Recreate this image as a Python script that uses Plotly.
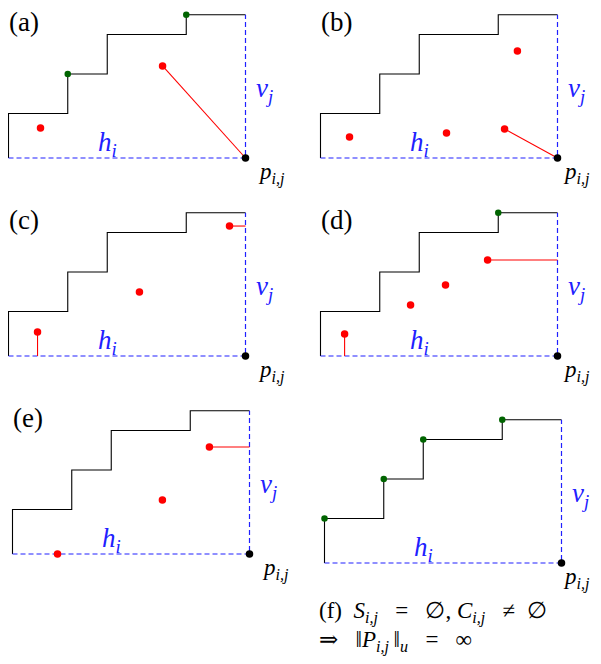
import plotly.graph_objects as go

# ---------------- data (panel units; origin = bottom-left of staircase, p_{i,j} at (12, 0)) -------------
STAIR_X = [0, 0, 3, 3, 5, 5, 9, 9, 12]
STAIR_Y = [0, 2.25, 2.25, 4.25, 4.25, 6.25, 6.25, 7.25, 7.25]
P_X, P_Y = 12, 0
TOP_Y = 7.25

panel_names = ["(a)", "(b)", "(c)", "(d)", "(e)", "(f)"]

a_red_x = [1.62, 7.8]
a_red_y = [1.52, 4.66]
a_green_x = [3, 9]
a_green_y = [4.25, 7.25]
a_links = [(1, "p")]

b_red_x = [1.47, 6.38, 9.32, 9.97]
b_red_y = [1.06, 1.27, 1.47, 5.42]
b_green_x = []
b_green_y = []
b_links = [(2, "p")]

c_red_x = [1.47, 6.63, 11.19]
c_red_y = [1.22, 3.24, 6.58]
c_green_x = []
c_green_y = []
c_links = [(0, "h"), (2, "v")]

d_red_x = [1.22, 4.56, 6.33, 8.46]
d_red_y = [1.11, 2.58, 3.59, 4.86]
d_green_x = [9]
d_green_y = [7.25]
d_links = [(0, "h"), (3, "v")]

e_red_x = [2.28, 7.59, 9.97]
e_red_y = [0.0, 2.73, 5.42]
e_green_x = []
e_green_y = []
e_links = [(2, "v")]

f_red_x = []
f_red_y = []
f_green_x = [0, 3, 5, 9]
f_green_y = [2.25, 4.25, 6.25, 7.25]
f_links = []

NB = "\u00a0"
TH = "\u2009"
caption_line1 = ("(f)" + NB * 2 + "<i>S</i><sub><i>i,j</i></sub>" + NB * 3 + "=" + NB * 3 + "∅,"
                 + NB + "<i>C</i><sub><i>i,j</i></sub>" + NB * 3 + "≠" + NB * 2 + "∅")
caption_line2 = ("⇒" + NB * 3 + "‖<i>P</i><sub><i>i,j</i></sub>" + TH + "‖<sub><i>u</i></sub>"
                 + NB * 3 + "=" + NB * 3 + "∞")

panels = [
    (a_red_x, a_red_y, a_green_x, a_green_y, a_links),
    (b_red_x, b_red_y, b_green_x, b_green_y, b_links),
    (c_red_x, c_red_y, c_green_x, c_green_y, c_links),
    (d_red_x, d_red_y, d_green_x, d_green_y, d_links),
    (e_red_x, e_red_y, e_green_x, e_green_y, e_links),
    (f_red_x, f_red_y, f_green_x, f_green_y, f_links),
]

# ---------------- layout (screen pixels; the page body adds an 8px margin) ----------------
OFF = 8
W, H = 601 - 2 * OFF, 664 - 2 * OFF
S = 19.75  # px per unit
# screen-pixel origin of each panel, and panel box (x0, x1, y0, y1) in screen px
origins = [(8.5, 158), (320.5, 158), (8.5, 356), (320.5, 356), (12.5, 554), (324.5, 563)]
boxes = [(8, 300, 8, 198), (300, 593, 8, 198), (8, 300, 198, 395),
         (300, 593, 198, 395), (8, 300, 395, 595), (300, 593, 395, 595)]
right_col = [False, True, False, True, False, True]

RED = "#ff0000"
GREEN = "#006400"
BLUE = "#2020ff"
SERIF = "Liberation Serif, DejaVu Serif, serif"

fig = go.Figure()
layout_axes = {}
annotations = []

for k, ((rx, ry, gx, gy, links), (ox, oy), (bx0, bx1, by0, by1)) in enumerate(zip(panels, origins, boxes)):
    n = "" if k == 0 else str(k + 1)
    xa, ya = "x" + n, "y" + n
    fx0, fx1, fy0, fy1 = bx0 - OFF, bx1 - OFF, by0 - OFF, by1 - OFF
    layout_axes["xaxis" + n] = dict(
        domain=[fx0 / W, min(fx1 / W, 1)], range=[(bx0 - ox) / S, (bx1 - ox) / S],
        visible=False, fixedrange=True, anchor=ya)
    layout_axes["yaxis" + n] = dict(
        domain=[max(1 - fy1 / H, 0), 1 - fy0 / H], range=[(oy - by1) / S, (oy - by0) / S],
        visible=False, fixedrange=True, anchor=xa)

    # staircase
    fig.add_trace(go.Scatter(x=STAIR_X, y=STAIR_Y, mode="lines", xaxis=xa, yaxis=ya,
                             line=dict(color="black", width=1.1), hoverinfo="skip", showlegend=False))
    # dashed h_i and v_j
    fig.add_trace(go.Scatter(x=[STAIR_X[0], P_X, P_X], y=[P_Y, P_Y, TOP_Y], mode="lines",
                             xaxis=xa, yaxis=ya,
                             line=dict(color=BLUE, width=1.2, dash="5px,3px"),
                             hoverinfo="skip", showlegend=False))
    # red links
    for idx, kind in links:
        px, py = rx[idx], ry[idx]
        if kind == "p":
            lx, ly = [px, P_X], [py, P_Y]
        elif kind == "h":
            lx, ly = [px, px], [py, P_Y]
        else:
            lx, ly = [px, P_X], [py, py]
        fig.add_trace(go.Scatter(x=lx, y=ly, mode="lines", xaxis=xa, yaxis=ya,
                                 line=dict(color=RED, width=1.1), hoverinfo="skip", showlegend=False))
    # red points
    if rx:
        fig.add_trace(go.Scatter(x=rx, y=ry, mode="markers", xaxis=xa, yaxis=ya, cliponaxis=False,
                                 marker=dict(color=RED, size=7.5), hoverinfo="skip", showlegend=False))
    # green points
    if gx:
        fig.add_trace(go.Scatter(x=gx, y=gy, mode="markers", xaxis=xa, yaxis=ya, cliponaxis=False,
                                 marker=dict(color=GREEN, size=6.5), hoverinfo="skip", showlegend=False))
    # p_{i,j}
    fig.add_trace(go.Scatter(x=[P_X], y=[P_Y], mode="markers", xaxis=xa, yaxis=ya, cliponaxis=False,
                             marker=dict(color="black", size=7.5), hoverinfo="skip", showlegend=False))

    # labels
    annotations.append(dict(x=5.0, y=0.72, xref=xa, yref=ya, showarrow=False,
                            text="<i>h</i><sub><i>i</i></sub>",
                            font=dict(family=SERIF, size=27, color=BLUE)))
    annotations.append(dict(x=12.98, y=3.44, xref=xa, yref=ya, showarrow=False,
                            text="<i>v</i><sub><i>j</i></sub>",
                            font=dict(family=SERIF, size=27, color=BLUE)))
    if right_col[k]:
        annotations.append(dict(x=(592 - ox) / S, y=-0.8, xref=xa, yref=ya, showarrow=False,
                                xanchor="right", text="<i>p</i><sub><i>i,j</i></sub>",
                                font=dict(family=SERIF, size=23, color="black")))
    else:
        annotations.append(dict(x=12.55, y=-0.8, xref=xa, yref=ya, showarrow=False,
                                xanchor="left", text="<i>p</i><sub><i>i,j</i></sub>",
                                font=dict(family=SERIF, size=23, color="black")))
    if k < 5:
        annotations.append(dict(x=0.8, y=6.9, xref=xa, yref=ya, showarrow=False,
                                text=panel_names[k],
                                font=dict(family=SERIF, size=27, color="black")))

annotations.append(dict(x=(317 - OFF) / W, y=1 - (612 - OFF) / H, xref="paper", yref="paper",
                        showarrow=False, xanchor="left", yanchor="middle", text=caption_line1,
                        font=dict(family=SERIF, size=23, color="black")))
annotations.append(dict(x=(317 - OFF) / W, y=1 - (641 - OFF) / H, xref="paper", yref="paper",
                        showarrow=False, xanchor="left", yanchor="middle", text=caption_line2,
                        font=dict(family=SERIF, size=23, color="black")))

fig.update_layout(width=W, height=H, margin=dict(l=0, r=0, t=0, b=0),
                  paper_bgcolor="white", plot_bgcolor="white",
                  annotations=annotations, **layout_axes)

fig.write_html("out.html")
